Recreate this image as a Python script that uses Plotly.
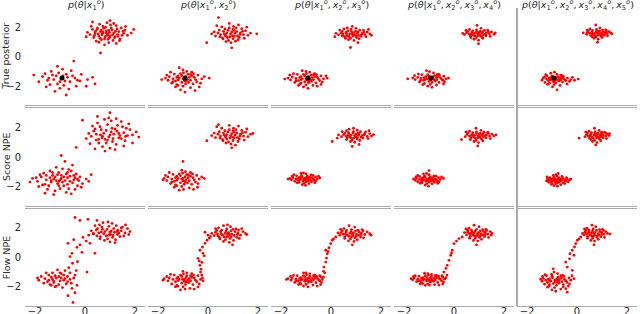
import plotly.graph_objects as go
from plotly.subplots import make_subplots

row_labels = ["True posterior", "Score NPE", "Flow NPE"]
_x = ["<i>x</i><sub>%d</sub><sup><i>o</i></sup>" % k for k in range(1, 6)]
col_titles = ["<i>p</i>(<i>θ</i>|" + ",\u2009".join(_x[:n]) + ")" for n in range(1, 6)]
tick_vals = [-2, 0, 2]
tick_text = ["\u22122", "0", "2"]
theta_true = (-0.92, -1.45)

# ---------------- True posterior ----------------
true_1 = [(0.91,1.52),(0.65,1.80),(1.20,1.35),(0.40,1.60),(1.05,1.95),(0.78,1.20),(1.35,1.70),(0.55,1.40),(0.98,1.65),(0.72,2.05),
(1.48,1.45),(0.30,1.85),(1.12,1.10),(0.85,1.75),(0.60,1.25),(1.25,2.10),(0.45,1.05),(1.00,1.40),(0.70,1.58),(1.60,1.80),
(0.20,1.50),(1.15,1.62),(0.88,2.30),(0.50,1.95),(1.40,1.20),(0.95,0.95),(0.62,1.70),(1.30,1.50),(0.80,1.35),(1.08,1.82),
(0.35,1.30),(1.55,1.58),(0.75,1.92),(1.18,1.28),(0.58,2.20),(0.92,1.18),(1.70,1.45),(0.42,1.72),(1.02,2.15),(0.68,1.48),
(1.28,1.88),(0.10,1.65),(0.84,1.62),(1.45,1.95),(0.52,1.55),(1.10,1.48),(0.78,0.80),(1.38,1.08),(0.25,2.05),(0.95,1.78),
(1.62,2.05),(0.66,1.15),(1.22,1.72),(0.48,1.85),(0.88,1.45),(1.85,1.60),(0.05,1.35),(1.00,2.45),(0.72,1.68),(1.32,1.38),
(0.56,0.98),(1.15,2.25),(0.38,1.45),(0.98,1.30),(1.52,1.72),(0.82,2.00),(1.95,1.85),(0.62,0.25),(1.25,0.90),(0.30,2.35),
(-0.95,-1.50),(-1.30,-1.25),(-0.60,-1.70),(-1.10,-1.85),(-0.75,-1.20),(-1.50,-1.60),(-0.40,-1.45),(-1.05,-1.10),(-0.85,-1.95),(-1.25,-1.55),
(-0.55,-0.95),(-1.70,-1.35),(-0.20,-1.65),(-1.00,-2.15),(-1.40,-1.90),(-0.70,-1.40),(-1.15,-1.30),(-0.90,-0.85),(-0.35,-2.00),(-1.60,-1.15),
(-0.80,-1.65),(-1.20,-2.35),(-0.50,-1.30),(-1.85,-1.70),(-0.65,-2.20),(-1.35,-1.00),(0.10,-1.55),(-1.00,-1.70),(-0.45,-0.30),(-2.05,-1.25),
(0.30,-1.40),(0.40,-1.85),(-0.15,-1.20),(-1.55,-2.05),(-0.75,-2.60),(-1.10,-0.65),(0.05,-2.00),(-0.30,-1.60),(-1.45,-1.45),(-0.88,-1.30)]

true_2 = [(0.90,1.55),(0.62,1.72),(1.18,1.40),(0.78,1.30),(1.05,1.78),(0.50,1.50),(1.30,1.62),(0.85,1.95),(0.70,1.45),(1.00,1.22),
(1.42,1.50),(0.40,1.62),(0.95,1.68),(1.12,1.95),(0.58,1.28),(0.82,1.10),(1.25,1.30),(0.68,1.88),(1.50,1.75),(0.30,1.40),
(0.98,1.42),(1.08,1.58),(0.75,1.60),(1.35,1.90),(0.55,2.02),(0.88,1.35),(1.20,1.15),(0.45,1.80),(1.60,1.45),(0.72,1.02),
(1.02,2.05),(0.65,1.55),(1.15,1.70),(0.92,0.95),(0.25,1.68),(1.45,1.25),(0.80,1.78),(1.28,1.50),(0.60,1.20),(1.70,1.60),
(0.35,2.10),(1.05,1.38),(0.48,1.35),(1.38,1.72),(0.85,2.25),(1.10,1.05),(-0.05,0.95),(1.95,1.55),(0.42,2.65),(1.22,2.15),
(0.15,1.55),(0.95,0.60),(1.55,2.00),(0.70,1.40),(1.00,1.85),
(-0.95,-1.45),(-1.20,-1.30),(-0.70,-1.60),(-1.05,-1.75),(-0.80,-1.20),(-1.40,-1.50),(-0.55,-1.40),(-1.10,-1.15),(-0.90,-1.85),(-1.30,-1.65),
(-0.65,-1.05),(-1.55,-1.35),(-0.45,-1.70),(-1.00,-2.00),(-1.25,-1.90),(-0.75,-1.40),(-1.15,-1.45),(-0.85,-1.00),(-0.40,-1.25),(-1.60,-1.60),
(-0.95,-1.62),(-1.05,-1.28),(-0.60,-1.85),(-1.35,-1.18),(-0.70,-2.10),(-1.20,-1.58),(-0.25,-1.50),(-1.70,-1.45),(-0.88,-1.35),(-1.00,-0.90),
(-0.50,-1.55),(-1.45,-1.80),(-0.78,-1.75),(-1.10,-2.25),(-0.30,-1.80),(-1.50,-1.05),(-0.65,-1.30),(-1.25,-1.40),(-0.92,-2.40),(0.05,-1.45),
(-1.85,-1.55),(-0.15,-1.35),(-1.00,-1.50),(-0.58,-1.15),(-1.30,-2.05),(-0.82,-1.55),(-1.65,-1.25),(-0.35,-2.05),(-1.15,-0.75),(-0.70,-1.20),
(-1.40,-1.70),(-0.98,-1.10),(-0.52,-2.30),(-1.20,-1.95),(-0.88,-1.68)]

true_3 = [(0.85,1.55),(0.60,1.65),(1.10,1.45),(0.72,1.38),(0.98,1.72),(0.48,1.52),(1.25,1.60),(0.80,1.85),(0.65,1.42),(1.02,1.30),
(1.35,1.50),(0.40,1.62),(0.90,1.62),(1.15,1.80),(0.55,1.35),(0.78,1.25),(1.20,1.38),(0.68,1.75),(1.45,1.68),(0.30,1.48),
(0.95,1.48),(1.05,1.58),(0.75,1.55),(1.30,1.80),(0.52,1.88),(0.88,1.40),(1.12,1.22),(0.45,1.72),(1.55,1.55),(0.70,1.15),
(1.00,1.92),(0.62,1.55),(1.08,1.68),(0.92,1.10),(0.20,1.58),(1.40,1.35),(0.82,1.70),(1.22,1.50),(0.58,1.25),(1.62,1.45),
(0.35,1.80),(1.00,1.40),(0.45,1.40),(1.32,1.65),(0.85,2.05),(1.08,0.95),(0.15,1.35),(0.78,0.62),(1.50,1.85),(0.65,1.95),
(-0.95,-1.45),(-1.20,-1.35),(-0.70,-1.55),(-1.05,-1.70),(-0.80,-1.25),(-1.40,-1.48),(-0.55,-1.40),(-1.10,-1.20),(-0.90,-1.78),(-1.30,-1.62),
(-0.65,-1.15),(-1.55,-1.38),(-0.45,-1.62),(-1.00,-1.92),(-1.25,-1.85),(-0.75,-1.42),(-1.15,-1.50),(-0.85,-1.05),(-0.40,-1.30),(-1.62,-1.58),
(-0.95,-1.60),(-1.05,-1.30),(-0.60,-1.78),(-1.35,-1.20),(-0.72,-1.95),(-1.20,-1.55),(-0.30,-1.50),(-1.72,-1.45),(-0.88,-1.38),(-1.00,-1.00),
(-0.50,-1.52),(-1.45,-1.75),(-0.78,-1.68),(-1.10,-2.05),(-0.35,-1.72),(-1.50,-1.15),(-0.65,-1.35),(-1.25,-1.42),(-0.92,-2.15),(-0.15,-1.45),
(-1.85,-1.52),(-0.20,-1.30),(-1.00,-1.50),(-0.58,-1.22),(-1.30,-1.95),(-0.82,-1.55),(-1.65,-1.25),(-0.40,-1.88),(-1.15,-0.95),(-0.70,-1.22),
(-1.40,-1.65),(-0.98,-1.15),(-0.55,-2.00),(-1.20,-1.80),(-0.88,-1.68)]

true_4 = [(0.95,1.58),(0.72,1.65),(1.18,1.48),(0.85,1.40),(1.05,1.72),(0.60,1.55),(1.30,1.62),(0.90,1.82),(0.78,1.45),(1.10,1.35),
(1.42,1.55),(0.50,1.62),(1.00,1.65),(1.22,1.78),(0.65,1.40),(0.88,1.28),(1.28,1.42),(0.75,1.75),(1.50,1.68),(0.42,1.50),
(1.02,1.50),(1.12,1.60),(0.82,1.58),(1.35,1.80),(0.62,1.85),(0.95,1.42),(1.15,1.25),(0.55,1.72),(1.60,1.52),(0.80,1.18),
(1.08,1.92),(0.70,1.52),(1.15,1.68),(0.98,1.12),(0.35,1.58),(1.45,1.38),(0.90,1.70),(1.25,1.52),(0.68,1.30),(1.65,1.62),
(0.48,1.78),(1.05,1.42),(0.98,0.88),(1.38,1.68),(0.92,2.12),
(-0.90,-1.45),(-1.12,-1.35),(-0.68,-1.55),(-1.00,-1.68),(-0.78,-1.28),(-1.32,-1.48),(-0.55,-1.42),(-1.05,-1.22),(-0.88,-1.75),(-1.22,-1.60),
(-0.62,-1.18),(-1.45,-1.40),(-0.45,-1.60),(-0.95,-1.88),(-1.18,-1.82),(-0.72,-1.42),(-1.08,-1.50),(-0.82,-1.10),(-0.40,-1.32),(-1.55,-1.55),
(-0.92,-1.58),(-1.00,-1.32),(-0.60,-1.75),(-1.28,-1.22),(-0.70,-1.92),(-1.15,-1.55),(-0.32,-1.50),(-1.65,-1.45),(-0.85,-1.38),(-0.98,-1.02),
(-0.50,-1.52),(-1.38,-1.72),(-0.75,-1.65),(-1.05,-2.00),(-0.38,-1.70),(-1.42,-1.18),(-0.65,-1.35),(-1.20,-1.42),(-0.88,-2.08),(-0.22,-1.45),
(-1.85,-1.50),(-1.00,-1.48),(-0.58,-1.25),(-1.25,-1.90),(-0.80,-1.55),(-1.58,-1.28),(-0.42,-1.85),(-1.10,-0.95),(-0.68,-1.22),(-1.35,-1.62)]

true_5 = [(0.80,1.62),(0.60,1.68),(1.00,1.52),(0.70,1.45),(0.90,1.75),(0.50,1.58),(1.10,1.65),(0.78,1.85),(0.65,1.52),(0.95,1.40),
(1.20,1.58),(0.42,1.65),(0.85,1.68),(1.02,1.80),(0.55,1.45),(0.75,1.32),(1.08,1.45),(0.62,1.78),(1.28,1.70),(0.38,1.52),
(0.88,1.55),(0.98,1.62),(0.72,1.60),(1.15,1.82),(0.52,1.88),(0.82,1.45),(1.00,1.30),(0.45,1.75),(1.35,1.62),(0.68,1.25),
(0.92,1.95),(0.58,1.58),(1.05,1.70),(0.85,1.18),(0.25,1.62),(1.22,1.42),(0.78,1.72),(1.12,1.55),(0.60,1.35),(1.40,1.55),
(0.40,1.80),(0.95,1.48),(0.82,0.98),(1.18,1.75),(0.75,2.15),
(-0.85,-1.50),(-1.05,-1.42),(-0.65,-1.58),(-0.95,-1.68),(-0.75,-1.35),(-1.22,-1.52),(-0.55,-1.48),(-1.00,-1.30),(-0.85,-1.78),(-1.15,-1.62),
(-0.60,-1.28),(-1.35,-1.45),(-0.45,-1.62),(-0.92,-1.90),(-1.10,-1.80),(-0.70,-1.48),(-1.02,-1.55),(-0.80,-1.20),(-0.38,-1.45),(-1.40,-1.60),
(-0.88,-1.60),(-0.95,-1.38),(-0.58,-1.72),(-1.20,-1.30),(-0.68,-1.95),(-1.08,-1.58),(-0.25,-1.55),(-1.30,-1.38),(-0.82,-1.42),(-0.90,-1.05),
(-0.50,-1.55),(-1.28,-1.75),(-0.72,-1.65),(-0.98,-2.05),(-0.30,-1.68),(-1.25,-1.22),(-0.62,-1.40),(-1.12,-1.45),(-0.80,-2.25),(-0.10,-1.60),
(0.05,-1.52),(-1.00,-1.50),(-0.55,-1.32),(-1.18,-1.88),(-0.78,-1.58),(-0.18,-1.40),(-0.40,-1.85),(-1.05,-1.12),(-0.65,-1.25),(-0.92,-1.70)]

# ---------------- Score NPE ----------------
score_1 = [(1.00,1.50),(0.65,1.85),(1.35,1.30),(0.80,1.20),(1.20,1.90),(0.45,1.55),(1.55,1.65),(0.90,2.20),(0.70,1.40),(1.10,1.05),
(1.70,1.45),(0.35,1.75),(1.05,1.70),(1.30,2.15),(0.55,1.20),(0.85,0.95),(1.45,1.25),(0.60,2.05),(1.80,1.85),(0.25,1.40),
(0.95,1.35),(1.15,1.55),(0.75,1.60),(1.50,2.05),(0.50,2.30),(0.90,1.15),(1.25,0.85),(0.40,1.90),(1.90,1.50),(0.70,0.70),
(1.05,2.45),(0.62,1.50),(1.28,1.75),(1.00,0.60),(0.15,1.60),(1.60,1.10),(0.85,1.80),(1.40,1.45),(0.55,0.95),(2.05,1.70),
(0.30,2.10),(1.12,1.25),(0.45,1.15),(1.65,1.95),(0.95,2.65),(1.20,0.50),(-0.35,0.65),(2.15,1.35),(0.50,2.75),(1.45,2.40),
(-0.10,2.50),(0.80,0.40),(1.75,2.25),(0.68,1.30),(1.08,1.95),(1.90,0.95),(0.20,0.90),(1.35,1.60),(0.78,2.55),(1.55,0.75),
(0.05,1.25),(1.00,3.00),(1.25,2.60),(0.40,0.55),(1.62,1.40),
(-0.95,-1.45),(-1.30,-1.25),(-0.60,-1.65),(-1.10,-1.80),(-0.75,-1.15),(-1.55,-1.55),(-0.40,-1.40),(-1.05,-1.05),(-0.85,-1.95),(-1.35,-1.70),
(-0.55,-0.95),(-1.75,-1.35),(-0.25,-1.60),(-1.00,-2.15),(-1.45,-1.95),(-0.70,-1.40),(-1.20,-1.35),(-0.90,-0.80),(-0.30,-1.95),(-1.65,-1.10),
(-0.80,-1.60),(-1.20,-2.30),(-0.45,-1.25),(-1.90,-1.65),(-0.65,-2.15),(-1.40,-0.95),(0.05,-1.50),(-1.05,-1.65),(-0.50,-0.55),(-2.10,-1.45),
(0.25,-1.20),(-0.15,-2.05),(-1.25,-1.50),(-0.95,-1.25),(-1.60,-1.85),(-0.70,-1.85),(-1.15,-0.70),(-0.35,-1.15),(-1.80,-1.20),(-0.85,-1.35),
(-1.50,-2.20),(-0.60,-1.30),(-1.00,-1.55),(-1.30,-1.05),(-0.20,-1.35),(-0.75,-2.40),(-1.70,-1.90),(-0.50,-1.75),(-1.10,-1.20),(-0.90,-1.70),
(-1.40,-1.40),(-0.40,-2.20),(-1.95,-1.40),(-0.65,-0.85),(-1.25,-2.55),(-0.10,-1.80),(-1.55,-1.25),(-0.80,-0.30),(-0.30,-1.50),(-1.85,-2.00),
(-1.05,-1.95),(-0.55,-2.50),(-1.35,-1.60),(-0.70,-1.05),(0.15,-1.65),(-2.20,-1.70),(-1.15,-1.60),(-0.45,-1.55),(-1.60,-2.45),(-0.95,0.10)]

score_2 = [(0.90,1.45),(0.62,1.62),(1.18,1.32),(0.75,1.22),(1.05,1.68),(0.50,1.42),(1.30,1.55),(0.85,1.85),(0.70,1.35),(1.00,1.12),
(1.42,1.42),(0.40,1.55),(0.95,1.58),(1.12,1.85),(0.58,1.20),(0.82,1.02),(1.25,1.22),(0.68,1.78),(1.50,1.68),(0.30,1.32),
(0.98,1.35),(1.08,1.48),(0.75,1.52),(1.35,1.80),(0.55,1.95),(0.88,1.28),(1.20,1.05),(0.45,1.72),(1.60,1.38),(0.72,0.95),
(1.02,1.95),(0.65,1.48),(1.15,1.62),(0.92,0.88),(0.25,1.62),(1.45,1.15),(0.80,1.70),(1.28,1.42),(0.60,1.10),(1.70,1.55),
(0.35,2.05),(1.05,1.30),(0.48,1.28),(1.38,1.65),(0.85,2.15),(1.10,0.80),(-0.05,1.10),(1.80,1.60),(0.42,2.20),(1.22,2.10),
(0.15,1.45),(0.95,0.62),(1.55,1.90),(0.70,1.40),(1.00,1.78),
(-1.00,-1.45),(-1.25,-1.30),(-0.75,-1.60),(-1.10,-1.75),(-0.85,-1.20),(-1.45,-1.50),(-0.60,-1.40),(-1.15,-1.15),(-0.95,-1.85),(-1.35,-1.65),
(-0.70,-1.05),(-1.60,-1.35),(-0.50,-1.70),(-1.05,-2.00),(-1.30,-1.90),(-0.80,-1.40),(-1.20,-1.45),(-0.90,-1.00),(-0.45,-1.25),(-1.65,-1.60),
(-1.00,-1.62),(-1.10,-1.28),(-0.65,-1.85),(-1.40,-1.18),(-0.75,-2.10),(-1.25,-1.58),(-0.35,-1.50),(-1.75,-1.45),(-0.92,-1.35),(-1.05,-0.90),
(-0.55,-1.55),(-1.50,-1.80),(-0.82,-1.75),(-1.15,-2.25),(-0.40,-1.80),(-1.55,-1.05),(-0.70,-1.30),(-1.30,-1.40),(-0.98,-2.20),(-0.15,-1.45),
(-1.80,-1.55),(-0.25,-1.35),(-1.05,-1.50),(-0.62,-1.15),(-1.35,-2.05),(-0.88,-1.55),(-1.70,-1.25),(-0.42,-2.05),(-1.00,-0.30),(-0.78,-1.20),
(-1.45,-1.70),(-1.02,-1.10),(-0.58,-2.20),(-1.25,-1.95),(-0.92,-1.68)]

score_3 = [(0.95,1.45),(0.72,1.55),(1.20,1.35),(0.82,1.28),(1.08,1.62),(0.60,1.42),(1.32,1.50),(0.90,1.72),(0.75,1.35),(1.05,1.22),
(1.45,1.40),(0.50,1.52),(1.00,1.55),(1.18,1.72),(0.65,1.28),(0.85,1.15),(1.28,1.28),(0.70,1.65),(1.55,1.58),(0.42,1.38),
(1.00,1.38),(1.10,1.48),(0.80,1.48),(1.38,1.70),(0.62,1.78),(0.92,1.30),(1.15,1.12),(0.55,1.62),(1.62,1.42),(0.78,1.05),
(1.05,1.82),(0.68,1.45),(1.12,1.58),(0.95,1.00),(0.30,1.50),(1.48,1.25),(0.88,1.62),(1.25,1.45),(0.62,1.18),(1.70,1.52),
(0.45,1.72),(1.05,1.32),(0.05,1.05),(1.35,1.58),(0.90,1.95),(1.12,0.85),(0.25,1.28),(0.85,0.72),(1.52,1.78),(0.72,1.88),
(-1.05,-1.45),(-1.25,-1.38),(-0.85,-1.52),(-1.12,-1.62),(-0.95,-1.30),(-1.40,-1.48),(-0.75,-1.42),(-1.18,-1.25),(-1.00,-1.68),(-1.32,-1.58),
(-0.80,-1.22),(-1.52,-1.40),(-0.68,-1.58),(-1.08,-1.78),(-1.28,-1.72),(-0.90,-1.42),(-1.20,-1.50),(-1.00,-1.15),(-0.62,-1.35),(-1.58,-1.55),
(-1.05,-1.55),(-1.15,-1.35),(-0.78,-1.68),(-1.38,-1.28),(-0.88,-1.80),(-1.25,-1.55),(-0.55,-1.48),(-1.65,-1.45),(-0.98,-1.38),(-1.10,-1.08),
(-0.70,-1.50),(-1.45,-1.65),(-0.92,-1.62),(-1.15,-1.88),(-0.60,-1.62),(-1.48,-1.20),(-0.85,-1.35),(-1.30,-1.42),(-1.02,-1.92),(-0.45,-1.42),
(-1.72,-1.50),(-0.50,-1.30),(-1.08,-1.48),(-0.72,-1.25),(-1.35,-1.75),(-0.95,-1.52),(-1.55,-1.30),(-0.65,-1.75),(-1.20,-1.10),(-0.82,-1.60)]

score_4 = [(0.95,1.45),(0.72,1.52),(1.18,1.38),(0.85,1.28),(1.05,1.60),(0.62,1.42),(1.30,1.50),(0.90,1.70),(0.78,1.35),(1.10,1.22),
(1.42,1.42),(0.52,1.52),(1.00,1.55),(1.20,1.68),(0.68,1.28),(0.88,1.12),(1.28,1.30),(0.75,1.65),(1.52,1.55),(0.45,1.38),
(1.02,1.38),(1.12,1.48),(0.82,1.48),(1.35,1.68),(0.62,1.75),(0.95,1.30),(1.15,1.10),(0.55,1.62),(1.60,1.42),(0.80,1.05),
(1.08,1.80),(0.70,1.45),(1.15,1.58),(0.98,0.98),(0.30,1.18),(1.45,1.25),(0.90,1.62),(1.25,1.45),(0.65,1.18),(1.68,1.50),
(0.48,1.70),(1.05,1.32),(0.95,0.75),(1.38,1.60),(0.88,1.95),
(-1.05,-1.50),(-1.25,-1.42),(-0.85,-1.55),(-1.12,-1.65),(-0.95,-1.35),(-1.38,-1.52),(-0.75,-1.48),(-1.18,-1.30),(-1.00,-1.70),(-1.30,-1.62),
(-0.80,-1.28),(-1.50,-1.45),(-0.68,-1.62),(-1.08,-1.80),(-1.28,-1.75),(-0.90,-1.45),(-1.20,-1.55),(-1.00,-1.20),(-0.62,-1.40),(-1.55,-1.58),
(-1.05,-1.58),(-1.15,-1.38),(-0.78,-1.72),(-1.38,-1.32),(-0.88,-1.82),(-1.25,-1.58),(-0.55,-1.52),(-1.62,-1.48),(-0.98,-1.42),(-1.10,-1.12),
(-0.70,-1.55),(-1.45,-1.68),(-0.92,-1.65),(-1.15,-1.90),(-0.60,-1.68),(-1.45,-1.25),(-0.85,-1.40),(-1.30,-1.45),(-1.02,-1.98),(-0.42,-1.45),
(-1.00,-0.92),(-0.50,-1.35),(-1.08,-1.52),(-0.72,-1.30),(-1.35,-1.78),(-0.95,-1.55),(-1.52,-1.35),(-0.65,-1.78),(-1.22,-1.15),(-0.82,-1.62)]

score_5 = [(0.75,1.45),(0.55,1.52),(0.95,1.38),(0.65,1.28),(0.85,1.62),(0.45,1.42),(1.05,1.50),(0.72,1.70),(0.60,1.35),(0.90,1.22),
(1.15,1.42),(0.38,1.52),(0.80,1.55),(0.98,1.68),(0.50,1.28),(0.70,1.12),(1.05,1.30),(0.58,1.65),(1.22,1.55),(0.32,1.38),
(0.82,1.38),(0.92,1.48),(0.68,1.48),(1.10,1.68),(0.48,1.75),(0.78,1.30),(0.95,1.10),(0.42,1.62),(1.28,1.45),(0.62,1.05),
(0.88,1.80),(0.52,1.45),(0.98,1.58),(0.80,0.98),(0.08,1.28),(1.18,1.25),(0.72,1.62),(1.02,1.45),(0.55,1.18),(1.30,1.58),
(0.35,1.70),(0.85,1.32),(0.75,0.82),(1.15,1.62),(0.70,1.95),
(-0.80,-1.55),(-0.98,-1.48),(-0.62,-1.60),(-0.88,-1.68),(-0.72,-1.42),(-1.10,-1.55),(-0.52,-1.52),(-0.92,-1.38),(-0.78,-1.75),(-1.02,-1.65),
(-0.58,-1.40),(-1.18,-1.50),(-0.45,-1.65),(-0.85,-1.82),(-1.00,-1.78),(-0.68,-1.50),(-0.95,-1.58),(-0.80,-1.30),(-0.40,-1.48),(-1.22,-1.62),
(-0.82,-1.62),(-0.90,-1.45),(-0.55,-1.75),(-1.08,-1.40),(-0.65,-1.88),(-0.98,-1.60),(-0.30,-1.55),(-1.15,-1.45),(-0.75,-1.48),(-0.85,-1.20),
(-0.48,-1.58),(-1.12,-1.72),(-0.70,-1.68),(-0.92,-1.95),(-0.35,-1.68),(-1.20,-1.35),(-0.62,-1.48),(-1.05,-1.50),(-0.78,-1.98),(-0.25,-1.50),
(-0.75,-1.12),(-0.42,-1.40),(-0.88,-1.52),(-0.60,-1.32),(-1.02,-1.85),(-0.72,-1.60),(-1.15,-1.62),(-0.50,-1.80),(-0.95,-1.25),(-0.68,-1.58)]

# ---------------- Flow NPE ----------------
flow_1 = [(1.00,1.70),(0.70,1.90),(1.30,1.55),(0.85,1.45),(1.15,1.95),(0.55,1.65),(1.45,1.80),(0.95,2.10),(0.75,1.60),(1.10,1.35),
(1.60,1.65),(0.45,1.85),(1.05,1.80),(1.25,2.15),(0.62,1.40),(0.90,1.25),(1.40,1.40),(0.68,2.05),(1.70,1.95),(0.35,1.60),
(1.02,1.55),(1.18,1.70),(0.80,1.75),(1.50,2.05),(0.58,2.20),(0.95,1.50),(1.22,1.20),(0.50,1.95),(1.80,1.75),(0.78,1.15),
(1.08,2.30),(0.65,1.72),(1.32,1.85),(1.00,1.05),(0.25,1.80),(1.55,1.45),(0.88,1.90),(1.35,1.65),(0.60,1.25),(1.75,1.55),
(0.40,2.15),(1.12,1.48),(0.48,1.45),(1.45,2.00),(0.92,2.40),(1.20,1.00),(0.15,1.50),(1.62,2.20),(0.72,2.35),(1.28,1.75),
(-0.40,2.70),(-0.20,2.50),(0.12,2.58),(0.48,2.50),(-0.68,0.95),(-0.52,0.27),(-0.32,0.68),(-0.12,0.34),(-0.08,1.36),(0.32,1.60),
(0.20,0.95),(0.40,0.27),(-0.45,1.20),(-0.20,0.85),(0.05,1.10),(-0.60,0.05),
(-1.15,-1.40),(-1.45,-1.20),(-0.85,-1.55),(-1.25,-1.70),(-0.95,-1.10),(-1.60,-1.45),(-0.70,-1.30),(-1.30,-1.05),(-1.05,-1.85),(-1.50,-1.65),
(-0.80,-0.90),(-1.75,-1.30),(-0.60,-1.50),(-1.20,-2.00),(-1.40,-1.85),(-0.95,-1.40),(-1.35,-1.35),(-1.10,-0.85),(-0.55,-1.75),(-1.85,-1.55),
(-1.00,-1.60),(-1.30,-1.50),(-0.75,-1.80),(-1.55,-1.05),(-0.90,-2.05),(-1.20,-1.25),(-0.45,-1.40),(-1.65,-1.75),(-1.05,-1.30),(-0.65,-0.70),
(-0.50,-0.40),(-0.35,-0.90),(-0.60,-1.05),(-1.45,-1.55),(-0.85,-1.20),(-1.25,-1.60),(-0.40,-1.20),(-1.90,-1.40),(-1.15,-1.95),(-0.70,-1.65),
(-0.52,-2.10),(-0.40,-2.40),(-0.68,-2.60),(-0.48,-3.06),(-0.32,-1.90),(0.08,-1.00),(-1.00,-1.05),(-1.35,-1.90),(-0.80,-1.45),(-0.30,-0.30)]

flow_2 = [(0.78,1.60),(0.50,1.75),(1.05,1.48),(0.65,1.38),(0.92,1.80),(0.38,1.58),(1.20,1.65),(0.75,1.92),(0.58,1.50),(0.88,1.28),
(1.30,1.50),(0.30,1.70),(0.82,1.68),(1.00,1.90),(0.45,1.35),(0.70,1.20),(1.15,1.35),(0.55,1.85),(1.40,1.75),(0.25,1.48),
(0.80,1.45),(0.95,1.58),(0.68,1.62),(1.12,1.92),(0.42,2.00),(0.75,1.38),(1.02,1.15),(0.35,1.82),(1.50,1.62),(0.62,1.08),
(0.90,2.08),(0.52,1.60),(1.08,1.75),(0.85,1.02),(0.15,1.62),(1.25,1.28),(0.72,1.78),(1.18,1.55),(0.48,1.25),(1.55,1.55),
(0.30,1.95),(0.92,1.40),(0.40,1.45),(1.22,1.85),(0.78,2.20),(0.98,0.85),(0.10,1.40),(0.62,2.15),(1.35,1.95),(0.85,1.55),
(-0.32,-0.54),(-0.24,-0.34),(-0.40,-0.07),(-0.20,0.27),(-0.32,0.48),(-0.12,0.95),(-0.04,1.16),(0.00,1.50),(-0.12,1.70),(-0.28,-0.80),
(-0.15,0.10),(-0.22,0.70),(0.05,1.30),(-0.35,-0.25),
(-0.95,-1.50),(-1.20,-1.35),(-0.70,-1.60),(-1.05,-1.75),(-0.85,-1.25),(-1.40,-1.50),(-0.55,-1.40),(-1.10,-1.20),(-0.90,-1.85),(-1.30,-1.65),
(-0.65,-1.10),(-1.55,-1.40),(-0.45,-1.65),(-1.00,-2.00),(-1.25,-1.90),(-0.75,-1.45),(-1.15,-1.50),(-0.85,-1.05),(-0.40,-1.25),(-1.60,-1.60),
(-0.95,-1.62),(-1.05,-1.30),(-0.60,-1.85),(-1.35,-1.20),(-0.72,-2.10),(-1.20,-1.58),(-0.30,-1.50),(-1.75,-1.45),(-0.88,-1.38),(-1.00,-0.95),
(-0.50,-1.55),(-1.45,-1.80),(-0.78,-1.72),(-1.10,-2.20),(-0.35,-1.80),(-1.50,-1.15),(-0.65,-1.35),(-1.25,-1.42),(-0.92,-2.15),(-0.25,-1.20),
(-1.80,-1.55),(-0.20,-1.60),(-1.02,-1.50),(-0.58,-1.20),(-1.30,-2.00),(-0.82,-1.55),(-1.65,-1.30),(-0.40,-2.00),(-0.30,-1.00),(-0.70,-1.25),
(-0.22,-1.40),(-0.98,-1.12),(-0.55,-2.15),(-1.20,-1.95),(-0.88,-1.68)]

flow_3 = [(0.85,1.60),(0.60,1.72),(1.10,1.50),(0.72,1.42),(0.98,1.78),(0.48,1.58),(1.22,1.65),(0.82,1.88),(0.65,1.50),(0.95,1.32),
(1.35,1.55),(0.40,1.68),(0.90,1.65),(1.08,1.85),(0.55,1.40),(0.78,1.25),(1.18,1.38),(0.62,1.82),(1.45,1.72),(0.35,1.50),
(0.88,1.48),(1.02,1.58),(0.75,1.62),(1.25,1.88),(0.52,1.95),(0.82,1.40),(1.05,1.20),(0.45,1.80),(1.55,1.60),(0.70,1.12),
(0.95,2.05),(0.58,1.60),(1.12,1.72),(0.92,1.08),(0.28,1.65),(1.30,1.32),(0.80,1.75),(1.20,1.55),(0.55,1.28),(1.60,1.50),
(0.38,1.90),(1.00,1.42),(0.85,0.85),(1.28,1.80),(0.72,2.15),
(-0.28,-0.66),(-0.21,-0.32),(-0.15,0.25),(-0.21,0.48),(-0.01,0.93),(0.05,1.16),(0.19,1.38),(-0.30,-0.95),(-0.18,-0.05),(-0.08,0.65),
(-0.25,-1.05),(0.10,1.25),(-0.12,0.40),
(-0.95,-1.45),(-1.20,-1.38),(-0.70,-1.52),(-1.05,-1.62),(-0.85,-1.30),(-1.40,-1.48),(-0.55,-1.42),(-1.10,-1.25),(-0.90,-1.70),(-1.30,-1.58),
(-0.65,-1.20),(-1.55,-1.40),(-0.45,-1.60),(-1.00,-1.82),(-1.25,-1.75),(-0.75,-1.42),(-1.15,-1.48),(-0.85,-1.12),(-0.40,-1.32),(-1.60,-1.55),
(-0.95,-1.58),(-1.05,-1.32),(-0.60,-1.72),(-1.35,-1.25),(-0.72,-1.88),(-1.20,-1.55),(-0.35,-1.50),(-1.72,-1.45),(-0.88,-1.40),(-1.00,-1.05),
(-0.50,-1.52),(-1.45,-1.70),(-0.78,-1.65),(-1.10,-1.95),(-0.38,-1.70),(-1.50,-1.22),(-0.65,-1.38),(-1.25,-1.42),(-0.92,-2.00),(-0.30,-1.35),
(-1.78,-1.50),(-0.45,-1.25),(-1.02,-1.50),(-0.58,-1.28),(-1.30,-1.85),(-0.82,-1.55),(-1.62,-1.30),(-0.42,-1.85),(-1.10,-1.05),(-0.70,-1.25),
(-1.40,-1.62),(-0.98,-1.18),(-0.55,-1.95),(-1.20,-1.80),(-0.88,-1.65)]

flow_4 = [(0.93,1.61),(0.72,1.72),(1.15,1.52),(0.82,1.45),(1.05,1.80),(0.62,1.60),(1.25,1.68),(0.90,1.90),(0.75,1.52),(1.02,1.35),
(1.35,1.58),(0.55,1.70),(0.98,1.68),(1.15,1.88),(0.65,1.42),(0.85,1.28),(1.22,1.40),(0.70,1.85),(1.45,1.75),(0.50,1.52),
(0.95,1.50),(1.08,1.60),(0.80,1.65),(1.28,1.90),(0.60,1.98),(0.88,1.42),(1.10,1.22),(0.55,1.82),(1.52,1.62),(0.78,1.15),
(1.00,2.08),(0.68,1.62),(1.18,1.75),(0.95,1.10),(0.42,1.68),(1.38,1.35),(0.85,1.78),(1.25,1.55),(0.62,1.30),(1.48,1.50),
(0.48,1.92),(1.05,1.45),(0.90,0.85),(1.30,1.82),(0.80,2.18),
(-0.40,-1.00),(-0.27,-0.54),(-0.20,-0.20),(-0.13,0.14),(-0.07,0.48),(0.00,0.93),(0.20,1.27),(0.33,1.38),(-0.32,-0.75),(-0.10,0.30),(0.10,1.10),
(-1.00,-1.45),(-1.25,-1.38),(-0.75,-1.52),(-1.10,-1.60),(-0.90,-1.30),(-1.45,-1.48),(-0.60,-1.42),(-1.15,-1.25),(-0.95,-1.68),(-1.35,-1.58),
(-0.70,-1.22),(-1.60,-1.40),(-0.50,-1.58),(-1.05,-1.80),(-1.30,-1.72),(-0.80,-1.42),(-1.20,-1.48),(-0.90,-1.15),(-0.45,-1.35),(-1.65,-1.52),
(-1.00,-1.58),(-1.10,-1.32),(-0.65,-1.70),(-1.40,-1.28),(-0.78,-1.85),(-1.25,-1.55),(-0.38,-1.48),(-1.72,-1.45),(-0.92,-1.40),(-1.05,-1.10),
(-0.55,-1.50),(-1.50,-1.65),(-0.82,-1.62),(-1.15,-1.90),(-0.42,-1.68),(-1.55,-1.25),(-0.70,-1.38),(-1.30,-1.42),(-0.98,-1.88),(-0.32,-1.38),
(-0.28,-1.20),(-0.48,-1.25),(-1.08,-1.50),(-0.62,-1.28),(-1.35,-1.80),(-0.88,-1.55),(-1.62,-1.30),(-0.45,-1.80),(-1.18,-1.08),(-0.75,-1.25),
(-1.42,-1.60),(-1.02,-1.20),(-0.60,-1.88),(-1.25,-1.78),(-0.92,-1.62)]

flow_5 = [(0.68,1.62),(0.48,1.72),(0.88,1.52),(0.58,1.45),(0.78,1.82),(0.38,1.60),(0.98,1.68),(0.65,1.92),(0.52,1.52),(0.80,1.35),
(1.08,1.58),(0.32,1.70),(0.72,1.68),(0.90,1.88),(0.42,1.42),(0.62,1.28),(0.95,1.40),(0.48,1.85),(1.15,1.75),(0.28,1.52),
(0.70,1.50),(0.85,1.60),(0.58,1.65),(1.02,1.90),(0.40,1.98),(0.65,1.42),(0.85,1.22),(0.35,1.82),(1.22,1.62),(0.55,1.15),
(0.75,2.08),(0.45,1.62),(0.92,1.75),(0.70,1.10),(0.22,1.62),(1.10,1.35),(0.62,1.78),(1.00,1.55),(0.42,1.30),(1.32,1.58),
(0.30,1.92),(0.80,1.45),(0.68,0.85),(1.05,1.82),(0.60,2.18),
(-0.39,-0.66),(-0.45,-0.32),(-0.12,0.14),(-0.19,0.48),(-0.05,0.93),(0.01,1.16),(0.15,1.38),(-0.19,-0.88),(-0.30,-0.10),(-0.10,0.70),(0.08,1.25),(-0.28,0.25),
(-0.85,-1.56),(-1.10,-1.45),(-0.60,-1.65),(-0.95,-1.78),(-0.75,-1.35),(-1.25,-1.55),(-0.50,-1.50),(-1.00,-1.28),(-0.82,-1.90),(-1.18,-1.70),
(-0.58,-1.22),(-1.35,-1.42),(-0.40,-1.70),(-0.90,-2.05),(-1.12,-1.95),(-0.70,-1.52),(-1.05,-1.60),(-0.78,-1.10),(-0.32,-1.40),(-1.40,-1.62),
(-0.88,-1.68),(-0.98,-1.38),(-0.55,-1.85),(-1.22,-1.25),(-0.65,-2.15),(-1.08,-1.62),(-0.25,-1.55),(-1.45,-1.48),(-0.80,-1.45),(-0.92,-1.00),
(-0.45,-1.58),(-1.30,-1.82),(-0.72,-1.75),(-1.00,-2.20),(-0.30,-1.80),(-1.28,-1.18),(-0.62,-1.40),(-1.15,-1.50),(-0.85,-2.30),(-0.12,-1.45),
(-0.45,-2.13),(-0.39,-2.36),(-0.88,-1.55),(-0.52,-1.30),(-1.18,-2.02),(-0.75,-1.62),(-1.38,-1.30),(-0.35,-1.95),(-0.95,-0.78),(-0.65,-1.25),
(-0.20,-1.25),(-1.02,-1.15),(-0.55,-2.00),(-1.10,-1.85),(-0.78,-1.70)]

panels = [
    [true_1, true_2, true_3, true_4, true_5],
    [score_1, score_2, score_3, score_4, score_5],
    [flow_1, flow_2, flow_3, flow_4, flow_5],
]

W, H = 640, 314
ML, MR, MT, MB = 25, 3, 8, 8
pw = W - ML - MR
ph = H - MT - MB

fig = make_subplots(rows=3, cols=5, horizontal_spacing=3 / pw, vertical_spacing=3 / ph)

AXC = "#ababab"
TICKFONT = dict(family="DejaVu Sans", size=10, color="#262626")

for r in range(3):
    for c in range(5):
        pts = panels[r][c]
        fig.add_trace(go.Scatter(
            x=[p[0] for p in pts], y=[p[1] for p in pts], mode="markers",
            marker=dict(size=2.8, color="#ff0000", line=dict(width=0)),
            showlegend=False, hoverinfo="skip"), row=r + 1, col=c + 1)
        if r == 0:
            fig.add_trace(go.Scatter(
                x=[theta_true[0]], y=[theta_true[1]], mode="markers",
                marker=dict(size=5, color="black", line=dict(width=0)),
                showlegend=False, hoverinfo="skip"), row=r + 1, col=c + 1)
        fig.update_xaxes(range=[-2.4, 2.4], showgrid=False, zeroline=False,
                         tickvals=tick_vals, ticktext=tick_text, ticks="",
                         showticklabels=(r == 2), tickfont=TICKFONT,
                         ticklabelstandoff=-4,
                         showline=True, linecolor=AXC, linewidth=1.4,
                         mirror=(r > 0), automargin=False,
                         row=r + 1, col=c + 1)
        fig.update_yaxes(range=[-3.3, 3.3], showgrid=False, zeroline=False,
                         tickvals=tick_vals, ticktext=tick_text, ticks="",
                         showticklabels=(c == 0), tickfont=TICKFONT,
                         ticklabelstandoff=3,
                         showline=False, automargin=False,
                         row=r + 1, col=c + 1)

# column titles
for c in range(5):
    xname = "x" if c == 0 else f"x{c + 1}"
    fig.add_annotation(text=col_titles[c], xref=f"{xname} domain", x=0.5,
                       yref="paper", y=1, yanchor="bottom", yshift=-6,
                       showarrow=False, font=dict(family="DejaVu Sans", size=9.5, color="#262626"))

# row labels
row_h = (1 - 2 * 3 / ph) / 3
for r in range(3):
    yc = 1 - (r * (row_h + 3 / ph) + row_h / 2)
    fig.add_annotation(text=row_labels[r], xref="paper", x=(6 - ML) / pw,
                       yref="paper", y=yc, textangle=-90, showarrow=False,
                       xanchor="center", yanchor="middle",
                       font=dict(family="DejaVu Sans", size=9.5, color="#262626"))

# left spine of last column spanning the full figure
fig.add_shape(type="line", xref="x5 domain", x0=0, x1=0, yref="paper", y0=0, y1=1,
              line=dict(color=AXC, width=2))

fig.update_layout(width=W, height=H, margin=dict(l=ML, r=MR, t=MT, b=MB),
                  plot_bgcolor="white", paper_bgcolor="white",
                  font=dict(family="DejaVu Sans"))

fig.write_html("out.html", config={"displayModeBar": False},
               post_script="document.body.style.margin='0px';")
